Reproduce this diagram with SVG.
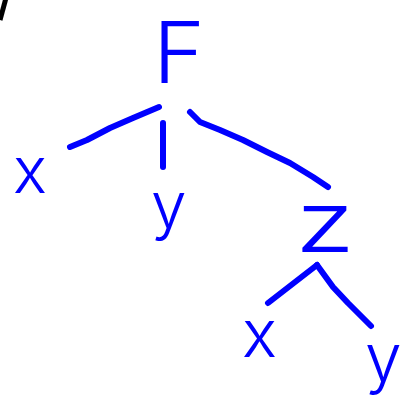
<svg xmlns="http://www.w3.org/2000/svg" width="405" height="403" viewBox="0 0 405 403">
<style>
.lbl{font-family:Inter,"Liberation Sans",sans-serif;font-weight:300;fill:#0000ff}
.edge{fill:none;stroke:#0000ff;stroke-width:6;stroke-linecap:round;stroke-linejoin:round}
</style>
<rect width="405" height="403" fill="#ffffff"/>
<path d="M6,-2 L0,20" stroke="#000000" stroke-width="5" fill="none"/>
<g id="connectors">
<path class="edge" d="M70,147 L87,140 L110,128 L133,118 L159,107"/>
<path class="edge" d="M163,123 L163,167"/>
<path class="edge" d="M190,112 L200,122 L220,130 L243,140 L267,152 L290,163 L313,177 L328,187"/>
<path class="edge" d="M268,303 L317,265"/>
<path class="edge" d="M317,265 L333,287 L348,303 L371,326"/>
</g>
<g id="node-F"><text class="lbl" x="153" y="83" font-size="85" font-weight="350" textLength="52" lengthAdjust="spacingAndGlyphs">F</text></g>
<g id="node-x1"><text class="lbl" x="13" y="193" font-size="64">x</text></g>
<g id="node-y1"><text class="lbl" x="151" y="228" font-size="64">y</text></g>
<g id="node-z"><text class="lbl" x="295" y="252" font-size="84" textLength="60" lengthAdjust="spacingAndGlyphs">z</text></g>
<g id="node-x2"><text class="lbl" x="242" y="357" font-size="66">x</text></g>
<g id="node-y2"><text class="lbl" x="365" y="381" font-size="66">y</text></g>
</svg>
